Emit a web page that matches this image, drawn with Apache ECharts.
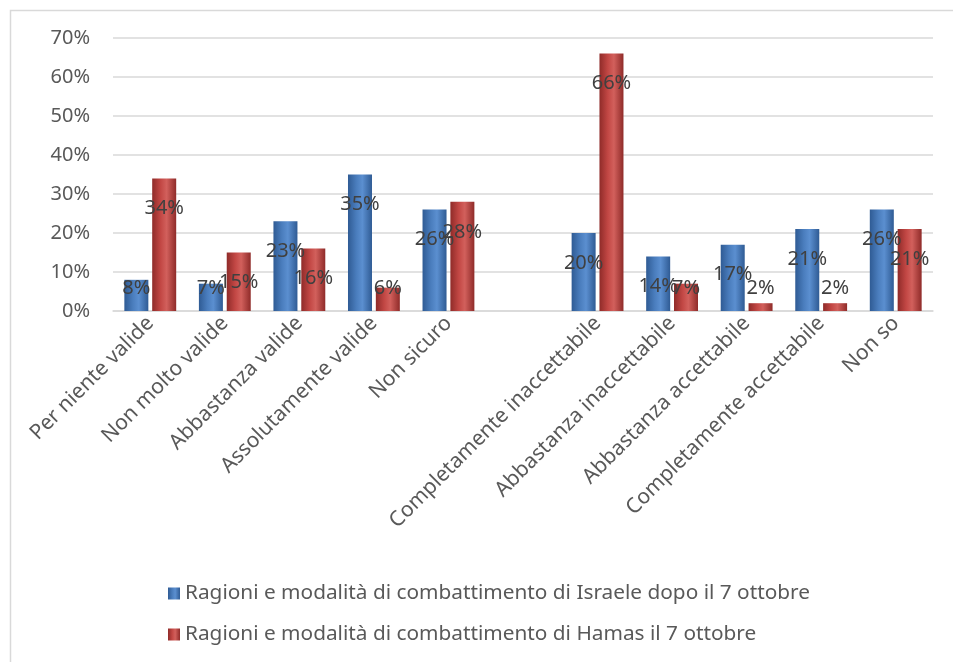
<!DOCTYPE html>
<html><head><meta charset="utf-8">
<script src="https://cdn.jsdelivr.net/npm/echarts@6/dist/echarts.min.js"></script>
<style>html,body{margin:0;padding:0;background:#fff}#c{width:953px;height:662px}</style>
</head><body><div id="c"></div>
<script>
const categories = ['Per niente valide','Non molto valide','Abbastanza valide','Assolutamente valide','Non sicuro','','Completamente inaccettabile','Abbastanza inaccettabile','Abbastanza accettabile','Completamente accettabile','Non so'];
const israelValues = [8, 7, 23, 35, 26, null, 20, 14, 17, 21, 26];
const hamasValues = [34, 15, 16, 6, 28, null, 66, 7, 2, 2, 21];
const seriesNames = ['Ragioni e modalità di combattimento di Israele dopo il 7 ottobre','Ragioni e modalità di combattimento di Hamas il 7 ottobre'];
const yTicks = [0,10,20,30,40,50,60,70];

const FONT = 'Noto Sans';
function grad(dark, mid, light){
  return new echarts.graphic.LinearGradient(0,0,1,0,[
    {offset:0,color:dark},{offset:0.35,color:mid},{offset:0.6,color:light},{offset:1,color:dark}
  ]);
}
const blue = grad('#2f5b94','#4a7dbd','#5b8fd0');
const red = grad('#8f2b29','#c24744','#d2605c');

function mkData(vals){
  return vals.map(v => {
    if (v === null) return null;
    const small = v < 14;
    return {value: v, label: small ? {position:'insideBottom', distance:13} : {position:'insideTop', distance:20}};
  });
}
const labelStyle = {show:true, formatter:'{c}%', color:'#404040', fontFamily:FONT, fontSize:20};

const chart = echarts.init(document.getElementById('c'), null, {renderer:'canvas'});
chart.setOption({
  animation:false,
  backgroundColor:'#fff',
  graphic:[{type:'rect', shape:{x:10.5,y:10.5,width:980,height:700}, style:{fill:'none',stroke:'#d9d9d9',lineWidth:1.5}, silent:true}],
  grid:{left:113, right:20, top:38, bottom:351},
  legend:{orient:'vertical', left:163, top:578, itemWidth:12, itemHeight:12, itemGap:20, icon:'rect',
    textStyle:{color:'#595959', fontFamily:FONT, fontSize:20.8}},
  xAxis:{type:'category', data:categories,
    axisLine:{lineStyle:{color:'#d9d9d9', width:1.5}}, axisTick:{show:false},
    axisLabel:{rotate:45, interval:0, margin:9, color:'#595959', fontFamily:FONT, fontSize:21}},
  yAxis:{type:'value', min:yTicks[0], max:yTicks[yTicks.length-1], interval:10,
    axisLine:{show:false}, axisTick:{show:false},
    splitLine:{lineStyle:{color:'#d9d9d9', width:1.5}},
    axisLabel:{formatter:'{value}%', margin:23, color:'#595959', fontFamily:FONT, fontSize:20}},
  series:[
    {name:seriesNames[0], type:'bar', data:mkData(israelValues), barWidth:24, barGap:'16%',
     itemStyle:{color:blue}, label:labelStyle},
    {name:seriesNames[1], type:'bar', data:mkData(hamasValues), barWidth:24,
     itemStyle:{color:red}, label:labelStyle}
  ]
});
</script></body></html>
